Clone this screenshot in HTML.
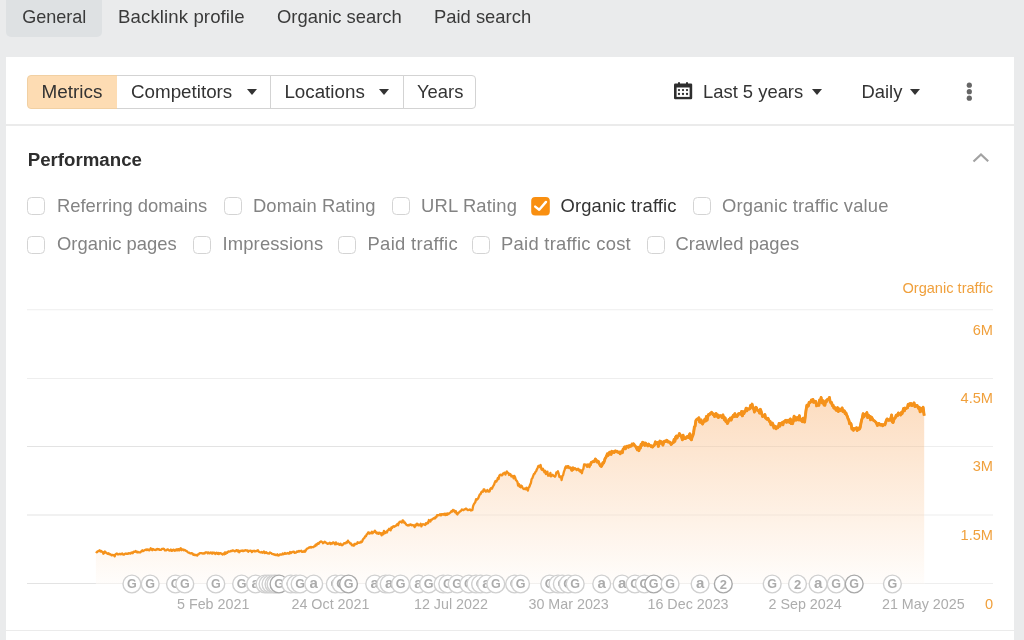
<!DOCTYPE html>
<html><head><meta charset="utf-8">
<style>
*{margin:0;padding:0;box-sizing:border-box}
html{-webkit-font-smoothing:antialiased}body{will-change:transform}html,body{width:1024px;height:640px;overflow:hidden;font-variant-ligatures:none;font-feature-settings:"liga" 0,"clig" 0;background:#eaebec;font-family:"Liberation Sans",sans-serif;color:#333}
.a{position:absolute;white-space:nowrap}
.t{font-size:18.4px;line-height:20px}
.tab{color:#3a3a3a}
#gen{left:6px;top:0;width:96px;height:37px;background:#dee1e3;border-radius:0 0 5px 5px}
#panel{left:6px;top:57px;width:1008px;height:583px;background:#fff}
.hr{height:1px;background:#ebebeb}
.btn{top:75px;height:33.6px;border:1px solid #d3d3d3;background:#fff}
.arrow{width:0;height:0;border-left:5px solid transparent;border-right:5px solid transparent;border-top:6px solid #333}
.cb{width:18px;height:18px;border:1.3px solid #d4d4d4;border-radius:4.5px;background:#fff}
.lbl{color:#838383}
.ylab{font-size:14.6px;line-height:16px;color:#f0a03c;text-align:right}
.dlab{font-size:14.3px;line-height:16px;color:#adadad}
</style></head><body>
<div class="a" id="gen"></div>
<div class="a t tab" style="left:22.2px;top:7px;font-size:18.05px">General</div>
<div class="a t tab" style="left:118.1px;top:7px;font-size:18.6px;letter-spacing:0.1px">Backlink profile</div>
<div class="a t tab" style="left:277px;top:7px">Organic search</div>
<div class="a t tab" style="left:434px;top:7px">Paid search</div>

<div class="a" id="panel"></div>
<div class="a hr" style="left:6px;top:124.3px;height:1.3px;width:1008px"></div>
<div class="a hr" style="left:6px;top:630.2px;height:1.3px;width:1008px"></div>

<div class="a btn" style="left:27px;width:91px;background:#fddcb3;border-color:#f1d0a3;border-radius:4px 0 0 4px"></div>
<div class="a btn" style="left:117px;width:155px;border-left:none"></div>
<div class="a btn" style="left:270.3px;width:133.7px"></div>
<div class="a btn" style="left:403px;width:73px;border-radius:0 4px 4px 0"></div>
<div class="a t" style="left:41.5px;top:82px;font-size:18.9px">Metrics</div>
<div class="a t" style="left:131px;top:82px;font-size:18.8px">Competitors</div>
<div class="a arrow" style="left:247px;top:89px"></div>
<div class="a t" style="left:284.4px;top:82px;font-size:18.8px">Locations</div>
<div class="a arrow" style="left:379px;top:89px"></div>
<div class="a t" style="left:417px;top:82px">Years</div>

<svg class="a" style="left:668px;top:76px" width="30" height="30" viewBox="0 0 30 30">
<rect x="6" y="7.6" width="18.2" height="15.6" rx="1.2" fill="#2e2e2e"/>
<rect x="8.6" y="11.5" width="13" height="9.4" fill="#fff"/>
<rect x="10" y="6" width="2" height="3" rx="1" fill="#2e2e2e"/><rect x="18" y="6" width="2" height="3" rx="1" fill="#2e2e2e"/>
<g fill="#2e2e2e"><circle cx="11" cy="14.1" r="1.15"/><circle cx="15" cy="14.1" r="1.15"/><circle cx="19" cy="14.1" r="1.15"/>
<circle cx="11" cy="18" r="1.15"/><circle cx="15" cy="18" r="1.15"/><circle cx="19" cy="18" r="1.15"/></g>
</svg>
<div class="a t" style="left:703px;top:82px">Last 5 years</div>
<div class="a arrow" style="left:811.5px;top:89px"></div>
<div class="a t" style="left:861.5px;top:82px">Daily</div>
<div class="a arrow" style="left:910px;top:89px"></div>
<svg class="a" style="left:964px;top:81px" width="11" height="22"><circle cx="5.3" cy="4.2" r="2.6" fill="#666"/><circle cx="5.3" cy="10.7" r="2.6" fill="#666"/><circle cx="5.3" cy="17.2" r="2.6" fill="#666"/></svg>

<div class="a" style="left:27.7px;top:150px;font-size:18.7px;line-height:20px;font-weight:bold;color:#2e2e2e">Performance</div>
<svg class="a" style="left:970px;top:150px" width="22" height="16"><polyline points="3.5,11.5 11,4.5 18.2,11.2" fill="none" stroke="#a2a2a2" stroke-width="2.2"/></svg>

<div class="a cb" style="left:27px;top:197.4px"></div>
<div class="a t lbl" style="left:57px;top:196px">Referring domains</div>
<div class="a cb" style="left:224px;top:197.4px"></div>
<div class="a t lbl" style="letter-spacing:0.07px;left:253px;top:196px">Domain Rating</div>
<div class="a cb" style="left:392px;top:197.4px"></div>
<div class="a t lbl" style="letter-spacing:0.17px;left:421px;top:196px">URL Rating</div>
<svg class="a" style="left:531px;top:197.3px" width="19" height="19"><rect x="0.2" y="0" width="18.6" height="18.6" rx="4" fill="#f98f10"/><polyline points="4.2,9.6 8.2,12.8 15,4.9" fill="none" stroke="#fff" stroke-width="2.4" stroke-linecap="round" stroke-linejoin="round"/></svg>
<div class="a t" style="letter-spacing:0.13px;left:560.5px;top:196px;color:#333">Organic traffic</div>
<div class="a cb" style="left:693px;top:197.4px"></div>
<div class="a t lbl" style="letter-spacing:0.16px;left:722px;top:196px">Organic traffic value</div>

<div class="a cb" style="left:27px;top:236px"></div>
<div class="a t lbl" style="left:57px;top:234px">Organic pages</div>
<div class="a cb" style="left:193px;top:236px"></div>
<div class="a t lbl" style="letter-spacing:0.15px;left:222.5px;top:234px">Impressions</div>
<div class="a cb" style="left:338px;top:236px"></div>
<div class="a t lbl" style="letter-spacing:0.33px;left:367.5px;top:234px">Paid traffic</div>
<div class="a cb" style="left:472px;top:236px"></div>
<div class="a t lbl" style="letter-spacing:0.27px;left:501px;top:234px">Paid traffic cost</div>
<div class="a cb" style="left:647px;top:236px"></div>
<div class="a t lbl" style="letter-spacing:0.08px;left:675.5px;top:234px">Crawled pages</div>

<div class="a ylab" style="right:31px;top:279.6px">Organic traffic</div>

<svg class="a" style="left:0;top:0" width="1024" height="640">
<defs><linearGradient id="gr" x1="0" y1="398" x2="0" y2="596" gradientUnits="userSpaceOnUse">
<stop offset="0" stop-color="#fcd9b9"/><stop offset="1" stop-color="#fff" stop-opacity="1"/></linearGradient></defs>
<g stroke="#eeeeee" stroke-width="1.1">
<line x1="27" y1="309.8" x2="993" y2="309.8"/><line x1="27" y1="378.5" x2="993" y2="378.5"/>
<line x1="27" y1="446.5" x2="993" y2="446.5"/><line x1="27" y1="515" x2="993" y2="515"/>
<line x1="27" y1="583.5" x2="993" y2="583.5"/></g>
<path d="M95.9,551.5 L96.7,552.3 L97.4,551.8 L98.2,551.0 L98.9,551.0 L99.7,550.2 L100.4,551.5 L101.2,551.0 L101.9,551.9 L102.7,552.0 L103.4,553.8 L104.2,553.0 L104.9,551.5 L105.7,552.6 L106.4,552.7 L107.2,553.6 L107.9,553.8 L108.7,553.3 L109.4,554.4 L110.2,554.1 L110.9,554.6 L111.7,555.4 L112.4,554.8 L113.2,555.1 L113.9,555.2 L114.7,556.3 L115.4,554.4 L116.2,553.8 L116.9,553.5 L117.7,554.4 L118.4,554.4 L119.2,553.9 L119.9,553.8 L120.7,554.3 L121.4,553.9 L122.2,553.4 L122.9,554.4 L123.7,554.7 L124.4,554.2 L125.2,553.7 L125.9,553.5 L126.7,553.8 L127.4,553.6 L128.2,553.8 L128.9,553.1 L129.7,553.5 L130.4,553.7 L131.2,552.7 L131.9,552.5 L132.7,553.2 L133.4,551.8 L134.2,551.6 L134.9,551.9 L135.7,551.0 L136.4,551.6 L137.2,552.5 L137.9,551.8 L138.7,552.4 L139.4,552.4 L140.2,552.4 L140.9,551.6 L141.7,551.2 L142.4,550.3 L143.2,551.1 L143.9,550.7 L144.7,550.1 L145.4,549.9 L146.2,549.4 L146.9,550.1 L147.7,549.5 L148.4,549.6 L149.2,550.4 L149.9,549.7 L150.7,548.3 L151.4,549.5 L152.2,550.2 L152.9,548.9 L153.7,549.7 L154.4,549.8 L155.2,549.6 L155.9,550.1 L156.7,549.1 L157.4,549.0 L158.2,549.5 L158.9,549.2 L159.7,549.9 L160.4,549.9 L161.2,549.8 L161.9,548.9 L162.7,548.8 L163.4,548.7 L164.2,549.1 L164.9,550.3 L165.7,550.3 L166.4,550.4 L167.2,549.4 L167.9,549.4 L168.7,550.2 L169.4,550.6 L170.2,550.3 L170.9,549.5 L171.7,550.9 L172.4,550.7 L173.2,549.7 L173.9,549.9 L174.7,550.8 L175.4,549.8 L176.2,550.3 L176.9,549.3 L177.7,550.4 L178.4,549.1 L179.2,550.4 L179.9,549.3 L180.7,548.2 L181.4,550.2 L182.2,549.4 L182.9,549.3 L183.7,550.3 L184.4,549.9 L185.2,550.3 L185.9,550.8 L186.7,551.0 L187.4,551.8 L188.2,552.5 L188.9,552.6 L189.7,553.0 L190.4,553.4 L191.2,553.5 L191.9,553.1 L192.7,553.7 L193.4,554.8 L194.2,554.5 L194.9,555.2 L195.7,554.8 L196.4,555.3 L197.2,555.5 L197.9,554.5 L198.7,554.4 L199.4,553.4 L200.2,553.2 L200.9,553.1 L201.7,553.1 L202.4,553.4 L203.2,553.7 L203.9,553.1 L204.7,553.5 L205.4,552.4 L206.2,552.3 L206.9,552.3 L207.7,553.3 L208.4,552.4 L209.2,553.1 L209.9,553.4 L210.7,552.4 L211.4,552.7 L212.2,553.7 L212.9,552.5 L213.7,553.1 L214.4,552.7 L215.2,554.0 L215.9,553.4 L216.7,552.7 L217.4,553.7 L218.2,552.9 L218.9,554.1 L219.7,553.1 L220.4,553.1 L221.2,553.6 L221.9,553.9 L222.7,554.6 L223.4,553.6 L224.2,554.2 L224.9,552.4 L225.7,553.7 L226.4,552.4 L227.2,552.9 L227.9,551.8 L228.7,551.4 L229.4,551.7 L230.2,551.5 L230.9,550.8 L231.7,551.2 L232.4,550.5 L233.2,550.4 L233.9,550.8 L234.7,551.4 L235.4,551.0 L236.2,550.4 L236.9,550.1 L237.7,551.3 L238.4,550.4 L239.2,552.3 L239.9,551.3 L240.7,550.8 L241.4,550.6 L242.2,551.0 L242.9,550.5 L243.7,551.1 L244.4,550.7 L245.2,550.2 L245.9,550.3 L246.7,550.6 L247.4,550.4 L248.2,551.7 L248.9,550.8 L249.7,550.9 L250.4,550.7 L251.2,550.9 L251.9,552.1 L252.7,551.0 L253.4,551.1 L254.2,550.7 L254.9,551.5 L255.7,551.1 L256.4,550.9 L257.1,551.1 L257.9,550.2 L258.6,551.5 L259.4,552.0 L260.1,552.3 L260.9,552.3 L261.6,551.9 L262.4,552.8 L263.1,552.5 L263.9,551.5 L264.6,553.0 L265.4,552.9 L266.1,552.1 L266.9,552.8 L267.6,553.4 L268.4,553.3 L269.1,553.6 L269.9,552.5 L270.6,553.0 L271.4,553.2 L272.1,554.0 L272.9,554.2 L273.6,554.2 L274.4,554.8 L275.1,554.5 L275.9,555.2 L276.6,555.2 L277.4,554.3 L278.1,555.5 L278.9,555.4 L279.6,554.7 L280.4,554.4 L281.1,554.7 L281.9,554.6 L282.6,553.5 L283.4,554.3 L284.1,554.0 L284.9,553.0 L285.6,553.8 L286.4,553.7 L287.1,553.3 L287.9,553.0 L288.6,553.6 L289.4,553.6 L290.1,552.0 L290.9,553.1 L291.6,552.4 L292.4,552.0 L293.1,551.9 L293.9,551.7 L294.6,552.9 L295.4,552.6 L296.1,552.6 L296.9,551.5 L297.6,551.8 L298.4,551.0 L299.1,551.6 L299.9,551.0 L300.6,551.2 L301.4,550.6 L302.1,551.8 L302.9,551.9 L303.6,551.7 L304.4,550.8 L305.1,551.7 L305.9,550.3 L306.6,549.1 L307.4,548.6 L308.1,548.2 L308.9,547.5 L309.6,547.5 L310.4,547.0 L311.1,547.6 L311.9,547.0 L312.6,547.2 L313.4,547.1 L314.1,546.4 L314.9,546.2 L315.6,544.6 L316.4,545.4 L317.1,544.1 L317.9,543.2 L318.6,543.7 L319.4,542.6 L320.1,541.9 L320.9,541.4 L321.6,541.7 L322.4,542.3 L323.1,543.2 L323.9,542.6 L324.6,541.7 L325.4,542.4 L326.1,542.7 L326.9,543.4 L327.6,543.9 L328.4,543.5 L329.1,543.4 L329.9,542.7 L330.6,544.1 L331.4,543.2 L332.1,543.6 L332.9,542.5 L333.6,542.5 L334.4,543.6 L335.1,544.4 L335.9,542.4 L336.6,544.0 L337.4,543.9 L338.1,543.5 L338.9,544.4 L339.6,544.8 L340.4,543.6 L341.1,544.4 L341.9,545.3 L342.6,544.9 L343.4,544.2 L344.1,543.1 L344.9,543.1 L345.6,543.4 L346.4,542.2 L347.1,542.6 L347.9,540.6 L348.6,542.0 L349.4,542.3 L350.1,543.5 L350.9,543.3 L351.6,544.9 L352.4,545.4 L353.1,544.8 L353.9,545.7 L354.6,543.9 L355.4,544.3 L356.1,543.8 L356.9,543.9 L357.6,542.2 L358.4,542.6 L359.1,542.8 L359.9,542.7 L360.6,541.8 L361.4,542.3 L362.1,541.6 L362.9,539.5 L363.6,538.6 L364.4,537.9 L365.1,536.4 L365.9,536.2 L366.6,534.6 L367.4,534.1 L368.1,532.5 L368.9,532.5 L369.6,533.5 L370.4,533.0 L371.1,533.3 L371.9,531.8 L372.6,533.3 L373.4,532.5 L374.1,531.9 L374.9,530.7 L375.6,531.6 L376.4,533.1 L377.1,533.5 L377.9,532.6 L378.6,533.8 L379.4,532.7 L380.1,533.6 L380.9,533.3 L381.6,535.3 L382.4,533.2 L383.1,534.2 L383.9,530.9 L384.6,533.4 L385.4,532.8 L386.1,531.8 L386.9,532.5 L387.6,530.5 L388.4,530.0 L389.1,528.8 L389.9,529.9 L390.6,530.4 L391.4,527.3 L392.1,528.1 L392.9,526.5 L393.6,526.2 L394.4,526.8 L395.1,526.1 L395.9,525.8 L396.6,524.9 L397.4,523.9 L398.1,525.2 L398.9,522.9 L399.6,521.9 L400.4,521.7 L401.1,521.9 L401.9,522.6 L402.6,520.4 L403.4,520.8 L404.1,522.7 L404.9,522.4 L405.6,523.8 L406.4,524.8 L407.1,525.1 L407.9,525.5 L408.6,525.0 L409.4,525.4 L410.1,524.5 L410.9,524.4 L411.6,525.3 L412.4,525.0 L413.1,525.2 L413.9,525.7 L414.6,527.1 L415.4,524.8 L416.1,525.5 L416.9,523.7 L417.6,523.8 L418.4,525.4 L419.1,525.3 L419.9,525.0 L420.6,523.7 L421.4,526.4 L422.1,524.8 L422.9,524.2 L423.6,524.3 L424.4,524.7 L425.1,525.0 L425.9,523.2 L426.6,524.0 L427.4,522.7 L428.1,523.1 L428.9,520.0 L429.6,521.2 L430.4,521.5 L431.1,519.7 L431.9,519.7 L432.6,518.9 L433.4,518.4 L434.1,518.0 L434.9,518.5 L435.6,516.9 L436.4,517.2 L437.1,515.1 L437.9,515.4 L438.6,515.1 L439.4,515.2 L440.1,514.1 L440.9,515.4 L441.6,514.1 L442.4,514.6 L443.1,514.0 L443.9,514.7 L444.6,513.7 L445.4,515.1 L446.1,513.6 L446.9,514.9 L447.6,513.4 L448.4,514.0 L449.1,513.5 L449.9,512.9 L450.6,512.4 L451.4,511.1 L452.1,511.6 L452.9,509.9 L453.6,511.0 L454.4,510.5 L455.1,512.2 L455.9,511.1 L456.6,513.7 L457.4,514.5 L458.1,513.0 L458.9,512.6 L459.6,511.7 L460.4,511.2 L461.1,510.8 L461.9,509.4 L462.6,510.0 L463.4,510.2 L464.1,509.4 L464.9,509.4 L465.6,508.7 L466.4,508.6 L467.1,509.6 L467.9,510.2 L468.6,510.0 L469.4,509.6 L470.1,509.5 L470.9,510.5 L471.6,510.3 L472.4,510.0 L473.1,506.1 L473.9,504.1 L474.6,503.2 L475.4,501.9 L476.1,499.1 L476.9,499.7 L477.6,499.0 L478.4,497.8 L479.1,496.0 L479.9,494.3 L480.6,494.1 L481.4,492.0 L482.1,491.4 L482.9,491.8 L483.6,489.5 L484.4,489.4 L485.1,491.0 L485.9,491.7 L486.6,491.1 L487.4,490.0 L488.1,491.5 L488.9,491.7 L489.6,491.3 L490.4,488.7 L491.1,488.0 L491.9,488.7 L492.6,487.2 L493.4,485.8 L494.1,484.6 L494.9,482.2 L495.6,480.9 L496.4,481.5 L497.1,480.2 L497.9,478.0 L498.6,479.0 L499.4,475.5 L500.1,474.8 L500.9,474.6 L501.6,475.4 L502.4,475.1 L503.1,473.4 L503.9,473.4 L504.6,472.6 L505.4,474.6 L506.1,472.9 L506.9,471.4 L507.6,472.7 L508.4,473.1 L509.1,475.0 L509.9,474.0 L510.6,474.5 L511.4,476.5 L512.1,476.3 L512.9,475.9 L513.6,478.3 L514.4,475.9 L515.1,477.3 L515.9,480.1 L516.6,480.7 L517.4,481.9 L518.1,485.5 L518.9,484.0 L519.6,486.6 L520.4,487.2 L521.1,485.5 L521.9,486.2 L522.6,487.9 L523.4,488.9 L524.1,489.0 L524.9,488.5 L525.6,489.2 L526.4,487.8 L527.1,489.6 L527.9,490.6 L528.6,487.6 L529.4,486.8 L530.1,484.7 L530.9,483.0 L531.6,479.1 L532.4,478.1 L533.1,476.2 L533.9,474.1 L534.6,473.7 L535.4,472.0 L536.1,471.3 L536.9,469.3 L537.6,467.9 L538.4,465.8 L539.1,465.9 L539.9,467.0 L540.6,465.0 L541.4,469.3 L542.1,470.0 L542.9,468.8 L543.6,470.4 L544.4,472.4 L545.1,470.8 L545.9,474.0 L546.6,472.3 L547.4,471.6 L548.1,475.7 L548.9,475.3 L549.6,475.6 L550.4,472.9 L551.1,476.4 L551.9,475.4 L552.6,474.8 L553.4,475.8 L554.1,476.0 L554.9,476.8 L555.6,475.6 L556.4,472.3 L557.1,472.5 L557.9,471.3 L558.6,473.4 L559.4,477.1 L560.1,477.2 L560.9,476.4 L561.6,480.0 L562.4,476.2 L563.1,475.2 L563.9,471.8 L564.6,469.9 L565.4,467.2 L566.1,466.3 L566.9,467.7 L567.6,466.1 L568.4,466.1 L569.1,468.1 L569.9,468.0 L570.6,467.4 L571.4,470.5 L572.1,470.6 L572.9,467.4 L573.6,469.7 L574.4,468.3 L575.1,468.1 L575.9,469.2 L576.6,470.1 L577.4,469.1 L578.1,468.7 L578.9,470.6 L579.6,469.6 L580.4,471.9 L581.1,470.5 L581.9,473.2 L582.6,470.1 L583.4,468.8 L584.1,464.4 L584.9,464.3 L585.6,465.2 L586.4,464.8 L587.1,466.9 L587.9,464.4 L588.6,464.6 L589.4,467.1 L590.1,465.6 L590.9,463.2 L591.6,462.1 L592.4,461.8 L593.1,461.5 L593.9,461.7 L594.6,460.8 L595.4,459.0 L596.1,460.1 L596.9,461.9 L597.6,461.1 L598.4,461.5 L599.1,463.5 L599.9,464.7 L600.6,466.0 L601.4,466.4 L602.1,465.1 L602.9,462.7 L603.6,463.1 L604.4,460.9 L605.1,458.5 L605.9,457.4 L606.6,455.9 L607.4,453.8 L608.1,455.4 L608.9,454.1 L609.6,452.2 L610.4,452.2 L611.1,454.4 L611.9,451.3 L612.6,452.3 L613.4,451.8 L614.1,452.5 L614.9,451.2 L615.6,450.9 L616.4,451.8 L617.1,451.3 L617.9,451.9 L618.6,452.6 L619.4,452.1 L620.1,453.8 L620.9,453.0 L621.6,451.4 L622.4,452.6 L623.1,449.1 L623.9,448.5 L624.6,446.9 L625.4,448.8 L626.1,447.3 L626.9,446.1 L627.6,446.1 L628.4,447.3 L629.1,445.8 L629.9,445.7 L630.6,446.3 L631.4,445.9 L632.1,444.0 L632.9,444.7 L633.6,443.8 L634.4,445.3 L635.1,445.9 L635.9,446.9 L636.6,448.2 L637.4,449.7 L638.1,447.3 L638.9,450.7 L639.6,447.0 L640.4,448.0 L641.1,444.2 L641.9,445.3 L642.6,442.3 L643.4,442.7 L644.1,443.3 L644.9,445.4 L645.6,443.1 L646.4,444.8 L647.1,445.2 L647.9,445.9 L648.6,444.1 L649.4,445.4 L650.1,445.5 L650.9,446.4 L651.6,445.8 L652.4,447.1 L653.1,446.4 L653.9,445.5 L654.6,444.7 L655.4,441.8 L656.1,443.2 L656.9,443.8 L657.6,442.6 L658.4,446.4 L659.1,443.3 L659.9,441.1 L660.6,443.2 L661.4,441.8 L662.1,442.3 L662.9,445.1 L663.6,442.7 L664.4,441.2 L665.1,441.1 L665.9,441.5 L666.6,440.3 L667.4,440.8 L668.1,442.1 L668.9,442.1 L669.6,442.0 L670.4,443.0 L671.1,444.5 L671.9,443.8 L672.6,442.6 L673.4,442.6 L674.1,439.4 L674.9,441.3 L675.6,437.2 L676.4,435.9 L677.1,438.0 L677.9,436.0 L678.6,435.8 L679.4,433.6 L680.1,434.8 L680.9,435.9 L681.6,437.1 L682.4,439.8 L683.1,435.3 L683.9,438.7 L684.6,438.1 L685.4,438.6 L686.1,437.6 L686.9,436.6 L687.6,436.5 L688.4,437.5 L689.1,435.3 L689.9,433.7 L690.6,438.9 L691.4,439.8 L692.1,437.1 L692.9,435.4 L693.6,432.8 L694.4,426.8 L695.1,426.1 L695.9,420.6 L696.6,419.6 L697.4,418.9 L698.1,419.1 L698.9,417.7 L699.6,422.0 L700.4,422.3 L701.1,419.9 L701.9,422.7 L702.6,424.0 L703.4,422.2 L704.1,420.8 L704.9,419.1 L705.6,421.1 L706.4,416.5 L707.1,420.2 L707.9,415.9 L708.6,414.5 L709.4,414.9 L710.1,413.6 L710.9,413.2 L711.6,412.3 L712.4,413.4 L713.1,414.7 L713.9,414.0 L714.6,416.5 L715.4,415.2 L716.1,413.5 L716.9,416.2 L717.6,414.9 L718.4,417.6 L719.1,416.2 L719.9,415.7 L720.6,415.6 L721.4,416.6 L722.1,417.5 L722.9,414.9 L723.6,417.5 L724.4,419.9 L725.1,417.8 L725.9,421.6 L726.6,421.6 L727.4,423.5 L728.1,422.2 L728.9,419.4 L729.6,420.2 L730.4,418.0 L731.1,420.1 L731.9,418.1 L732.6,416.8 L733.4,415.2 L734.1,416.6 L734.9,413.7 L735.6,416.3 L736.4,415.4 L737.1,416.5 L737.9,414.8 L738.6,413.6 L739.4,413.5 L740.1,414.1 L740.9,414.2 L741.6,411.4 L742.4,415.9 L743.1,411.6 L743.9,413.6 L744.6,412.0 L745.4,411.0 L746.1,408.2 L746.9,410.8 L747.6,408.8 L748.4,408.9 L749.1,409.1 L749.9,408.7 L750.6,405.4 L751.4,406.5 L752.1,404.1 L752.9,408.3 L753.6,408.0 L754.4,412.0 L755.1,408.9 L755.9,407.2 L756.6,408.2 L757.4,410.3 L758.1,410.9 L758.9,410.5 L759.6,413.1 L760.4,409.3 L761.1,411.2 L761.9,414.4 L762.6,416.6 L763.4,415.7 L764.1,416.0 L764.9,414.5 L765.6,418.1 L766.4,418.7 L767.1,419.2 L767.9,418.2 L768.6,419.7 L769.4,421.4 L770.1,421.3 L770.9,424.7 L771.6,424.8 L772.4,423.1 L773.1,424.7 L773.9,428.0 L774.6,426.1 L775.4,426.5 L776.1,428.8 L776.9,426.9 L777.6,427.8 L778.4,426.7 L779.1,423.4 L779.9,426.1 L780.6,423.5 L781.4,423.5 L782.1,422.6 L782.9,424.8 L783.6,421.8 L784.4,421.9 L785.1,420.7 L785.9,420.2 L786.6,422.3 L787.4,421.3 L788.1,420.2 L788.9,420.4 L789.6,422.6 L790.4,418.9 L791.1,423.5 L791.9,420.8 L792.6,423.7 L793.4,420.6 L794.1,416.1 L794.9,420.2 L795.6,417.4 L796.4,420.0 L797.1,418.7 L797.9,417.5 L798.6,419.9 L799.4,415.7 L800.1,420.0 L800.9,419.0 L801.6,420.6 L802.4,421.7 L803.1,418.2 L803.9,421.9 L804.6,422.0 L805.4,415.4 L806.1,409.7 L806.9,405.2 L807.6,406.5 L808.4,405.8 L809.1,402.4 L809.9,402.6 L810.6,402.1 L811.4,400.0 L812.1,401.3 L812.9,399.4 L813.6,402.4 L814.4,401.1 L815.1,402.1 L815.9,401.5 L816.6,405.9 L817.4,404.5 L818.1,404.2 L818.9,405.3 L819.6,399.9 L820.4,401.2 L821.1,397.4 L821.9,402.9 L822.6,400.5 L823.4,403.2 L824.1,405.1 L824.9,405.2 L825.6,400.9 L826.4,401.7 L827.1,399.8 L827.9,399.3 L828.6,399.1 L829.4,397.4 L830.1,401.3 L830.9,403.0 L831.6,402.5 L832.4,405.7 L833.1,405.2 L833.9,408.1 L834.6,407.3 L835.4,408.5 L836.1,410.2 L836.9,410.5 L837.6,407.6 L838.4,411.5 L839.1,408.8 L839.9,410.6 L840.6,410.3 L841.4,409.7 L842.1,407.9 L842.9,411.6 L843.6,411.4 L844.4,410.8 L845.1,413.6 L845.9,412.8 L846.6,415.0 L847.4,416.5 L848.1,418.8 L848.9,420.2 L849.6,423.7 L850.4,423.0 L851.1,424.1 L851.9,429.1 L852.6,428.4 L853.4,430.3 L854.1,428.6 L854.9,428.9 L855.6,428.7 L856.4,427.7 L857.1,430.5 L857.9,429.5 L858.6,428.1 L859.4,429.1 L860.1,427.8 L860.9,423.5 L861.6,420.1 L862.4,417.6 L863.1,413.7 L863.9,416.9 L864.6,415.5 L865.4,414.3 L866.1,414.2 L866.9,412.6 L867.6,417.6 L868.4,415.1 L869.1,417.2 L869.9,416.3 L870.6,419.9 L871.4,417.1 L872.1,418.2 L872.9,419.5 L873.6,420.5 L874.4,420.8 L875.1,421.5 L875.9,422.2 L876.6,423.4 L877.4,425.5 L878.1,424.1 L878.9,423.4 L879.6,424.0 L880.4,425.1 L881.1,424.7 L881.9,424.5 L882.6,425.8 L883.4,424.8 L884.1,424.4 L884.9,424.8 L885.6,422.6 L886.4,420.2 L887.1,418.9 L887.9,419.8 L888.6,420.3 L889.4,419.9 L890.1,420.3 L890.9,418.1 L891.6,415.0 L892.4,422.0 L893.1,422.5 L893.9,419.7 L894.6,418.3 L895.4,417.6 L896.1,415.3 L896.9,414.9 L897.6,415.7 L898.4,413.0 L899.1,413.7 L899.9,413.9 L900.6,415.0 L901.4,412.4 L902.1,413.7 L902.9,410.9 L903.6,408.5 L904.4,410.8 L905.1,408.1 L905.9,408.8 L906.6,408.1 L907.4,407.9 L908.1,404.5 L908.9,405.5 L909.6,403.7 L910.4,405.1 L911.1,403.5 L911.9,405.6 L912.6,404.2 L913.4,404.0 L914.1,402.9 L914.9,406.6 L915.6,406.1 L916.4,405.6 L917.1,405.4 L917.9,407.3 L918.6,408.4 L919.4,407.4 L920.1,411.9 L920.9,408.4 L921.6,410.5 L922.4,411.2 L923.1,407.3 L924.2,415.6 L924.2,584 L95.9,584 Z" fill="url(#gr)" fill-opacity="0.9"/>
<g stroke="#000" stroke-opacity="0.045" stroke-width="1.1"><line x1="27" y1="446.5" x2="924" y2="446.5"/><line x1="27" y1="515" x2="924" y2="515"/><line x1="27" y1="583.5" x2="924" y2="583.5"/></g>
<path d="M95.9,551.5 L96.7,552.3 L97.4,551.8 L98.2,551.0 L98.9,551.0 L99.7,550.2 L100.4,551.5 L101.2,551.0 L101.9,551.9 L102.7,552.0 L103.4,553.8 L104.2,553.0 L104.9,551.5 L105.7,552.6 L106.4,552.7 L107.2,553.6 L107.9,553.8 L108.7,553.3 L109.4,554.4 L110.2,554.1 L110.9,554.6 L111.7,555.4 L112.4,554.8 L113.2,555.1 L113.9,555.2 L114.7,556.3 L115.4,554.4 L116.2,553.8 L116.9,553.5 L117.7,554.4 L118.4,554.4 L119.2,553.9 L119.9,553.8 L120.7,554.3 L121.4,553.9 L122.2,553.4 L122.9,554.4 L123.7,554.7 L124.4,554.2 L125.2,553.7 L125.9,553.5 L126.7,553.8 L127.4,553.6 L128.2,553.8 L128.9,553.1 L129.7,553.5 L130.4,553.7 L131.2,552.7 L131.9,552.5 L132.7,553.2 L133.4,551.8 L134.2,551.6 L134.9,551.9 L135.7,551.0 L136.4,551.6 L137.2,552.5 L137.9,551.8 L138.7,552.4 L139.4,552.4 L140.2,552.4 L140.9,551.6 L141.7,551.2 L142.4,550.3 L143.2,551.1 L143.9,550.7 L144.7,550.1 L145.4,549.9 L146.2,549.4 L146.9,550.1 L147.7,549.5 L148.4,549.6 L149.2,550.4 L149.9,549.7 L150.7,548.3 L151.4,549.5 L152.2,550.2 L152.9,548.9 L153.7,549.7 L154.4,549.8 L155.2,549.6 L155.9,550.1 L156.7,549.1 L157.4,549.0 L158.2,549.5 L158.9,549.2 L159.7,549.9 L160.4,549.9 L161.2,549.8 L161.9,548.9 L162.7,548.8 L163.4,548.7 L164.2,549.1 L164.9,550.3 L165.7,550.3 L166.4,550.4 L167.2,549.4 L167.9,549.4 L168.7,550.2 L169.4,550.6 L170.2,550.3 L170.9,549.5 L171.7,550.9 L172.4,550.7 L173.2,549.7 L173.9,549.9 L174.7,550.8 L175.4,549.8 L176.2,550.3 L176.9,549.3 L177.7,550.4 L178.4,549.1 L179.2,550.4 L179.9,549.3 L180.7,548.2 L181.4,550.2 L182.2,549.4 L182.9,549.3 L183.7,550.3 L184.4,549.9 L185.2,550.3 L185.9,550.8 L186.7,551.0 L187.4,551.8 L188.2,552.5 L188.9,552.6 L189.7,553.0 L190.4,553.4 L191.2,553.5 L191.9,553.1 L192.7,553.7 L193.4,554.8 L194.2,554.5 L194.9,555.2 L195.7,554.8 L196.4,555.3 L197.2,555.5 L197.9,554.5 L198.7,554.4 L199.4,553.4 L200.2,553.2 L200.9,553.1 L201.7,553.1 L202.4,553.4 L203.2,553.7 L203.9,553.1 L204.7,553.5 L205.4,552.4 L206.2,552.3 L206.9,552.3 L207.7,553.3 L208.4,552.4 L209.2,553.1 L209.9,553.4 L210.7,552.4 L211.4,552.7 L212.2,553.7 L212.9,552.5 L213.7,553.1 L214.4,552.7 L215.2,554.0 L215.9,553.4 L216.7,552.7 L217.4,553.7 L218.2,552.9 L218.9,554.1 L219.7,553.1 L220.4,553.1 L221.2,553.6 L221.9,553.9 L222.7,554.6 L223.4,553.6 L224.2,554.2 L224.9,552.4 L225.7,553.7 L226.4,552.4 L227.2,552.9 L227.9,551.8 L228.7,551.4 L229.4,551.7 L230.2,551.5 L230.9,550.8 L231.7,551.2 L232.4,550.5 L233.2,550.4 L233.9,550.8 L234.7,551.4 L235.4,551.0 L236.2,550.4 L236.9,550.1 L237.7,551.3 L238.4,550.4 L239.2,552.3 L239.9,551.3 L240.7,550.8 L241.4,550.6 L242.2,551.0 L242.9,550.5 L243.7,551.1 L244.4,550.7 L245.2,550.2 L245.9,550.3 L246.7,550.6 L247.4,550.4 L248.2,551.7 L248.9,550.8 L249.7,550.9 L250.4,550.7 L251.2,550.9 L251.9,552.1 L252.7,551.0 L253.4,551.1 L254.2,550.7 L254.9,551.5 L255.7,551.1 L256.4,550.9 L257.1,551.1 L257.9,550.2 L258.6,551.5 L259.4,552.0 L260.1,552.3 L260.9,552.3 L261.6,551.9 L262.4,552.8 L263.1,552.5 L263.9,551.5 L264.6,553.0 L265.4,552.9 L266.1,552.1 L266.9,552.8 L267.6,553.4 L268.4,553.3 L269.1,553.6 L269.9,552.5 L270.6,553.0 L271.4,553.2 L272.1,554.0 L272.9,554.2 L273.6,554.2 L274.4,554.8 L275.1,554.5 L275.9,555.2 L276.6,555.2 L277.4,554.3 L278.1,555.5 L278.9,555.4 L279.6,554.7 L280.4,554.4 L281.1,554.7 L281.9,554.6 L282.6,553.5 L283.4,554.3 L284.1,554.0 L284.9,553.0 L285.6,553.8 L286.4,553.7 L287.1,553.3 L287.9,553.0 L288.6,553.6 L289.4,553.6 L290.1,552.0 L290.9,553.1 L291.6,552.4 L292.4,552.0 L293.1,551.9 L293.9,551.7 L294.6,552.9 L295.4,552.6 L296.1,552.6 L296.9,551.5 L297.6,551.8 L298.4,551.0 L299.1,551.6 L299.9,551.0 L300.6,551.2 L301.4,550.6 L302.1,551.8 L302.9,551.9 L303.6,551.7 L304.4,550.8 L305.1,551.7 L305.9,550.3 L306.6,549.1 L307.4,548.6 L308.1,548.2 L308.9,547.5 L309.6,547.5 L310.4,547.0 L311.1,547.6 L311.9,547.0 L312.6,547.2 L313.4,547.1 L314.1,546.4 L314.9,546.2 L315.6,544.6 L316.4,545.4 L317.1,544.1 L317.9,543.2 L318.6,543.7 L319.4,542.6 L320.1,541.9 L320.9,541.4 L321.6,541.7 L322.4,542.3 L323.1,543.2 L323.9,542.6 L324.6,541.7 L325.4,542.4 L326.1,542.7 L326.9,543.4 L327.6,543.9 L328.4,543.5 L329.1,543.4 L329.9,542.7 L330.6,544.1 L331.4,543.2 L332.1,543.6 L332.9,542.5 L333.6,542.5 L334.4,543.6 L335.1,544.4 L335.9,542.4 L336.6,544.0 L337.4,543.9 L338.1,543.5 L338.9,544.4 L339.6,544.8 L340.4,543.6 L341.1,544.4 L341.9,545.3 L342.6,544.9 L343.4,544.2 L344.1,543.1 L344.9,543.1 L345.6,543.4 L346.4,542.2 L347.1,542.6 L347.9,540.6 L348.6,542.0 L349.4,542.3 L350.1,543.5 L350.9,543.3 L351.6,544.9 L352.4,545.4 L353.1,544.8 L353.9,545.7 L354.6,543.9 L355.4,544.3 L356.1,543.8 L356.9,543.9 L357.6,542.2 L358.4,542.6 L359.1,542.8 L359.9,542.7 L360.6,541.8 L361.4,542.3 L362.1,541.6 L362.9,539.5 L363.6,538.6 L364.4,537.9 L365.1,536.4 L365.9,536.2 L366.6,534.6 L367.4,534.1 L368.1,532.5 L368.9,532.5 L369.6,533.5 L370.4,533.0 L371.1,533.3 L371.9,531.8 L372.6,533.3 L373.4,532.5 L374.1,531.9 L374.9,530.7 L375.6,531.6 L376.4,533.1 L377.1,533.5 L377.9,532.6 L378.6,533.8 L379.4,532.7 L380.1,533.6 L380.9,533.3 L381.6,535.3 L382.4,533.2 L383.1,534.2 L383.9,530.9 L384.6,533.4 L385.4,532.8 L386.1,531.8 L386.9,532.5 L387.6,530.5 L388.4,530.0 L389.1,528.8 L389.9,529.9 L390.6,530.4 L391.4,527.3 L392.1,528.1 L392.9,526.5 L393.6,526.2 L394.4,526.8 L395.1,526.1 L395.9,525.8 L396.6,524.9 L397.4,523.9 L398.1,525.2 L398.9,522.9 L399.6,521.9 L400.4,521.7 L401.1,521.9 L401.9,522.6 L402.6,520.4 L403.4,520.8 L404.1,522.7 L404.9,522.4 L405.6,523.8 L406.4,524.8 L407.1,525.1 L407.9,525.5 L408.6,525.0 L409.4,525.4 L410.1,524.5 L410.9,524.4 L411.6,525.3 L412.4,525.0 L413.1,525.2 L413.9,525.7 L414.6,527.1 L415.4,524.8 L416.1,525.5 L416.9,523.7 L417.6,523.8 L418.4,525.4 L419.1,525.3 L419.9,525.0 L420.6,523.7 L421.4,526.4 L422.1,524.8 L422.9,524.2 L423.6,524.3 L424.4,524.7 L425.1,525.0 L425.9,523.2 L426.6,524.0 L427.4,522.7 L428.1,523.1 L428.9,520.0 L429.6,521.2 L430.4,521.5 L431.1,519.7 L431.9,519.7 L432.6,518.9 L433.4,518.4 L434.1,518.0 L434.9,518.5 L435.6,516.9 L436.4,517.2 L437.1,515.1 L437.9,515.4 L438.6,515.1 L439.4,515.2 L440.1,514.1 L440.9,515.4 L441.6,514.1 L442.4,514.6 L443.1,514.0 L443.9,514.7 L444.6,513.7 L445.4,515.1 L446.1,513.6 L446.9,514.9 L447.6,513.4 L448.4,514.0 L449.1,513.5 L449.9,512.9 L450.6,512.4 L451.4,511.1 L452.1,511.6 L452.9,509.9 L453.6,511.0 L454.4,510.5 L455.1,512.2 L455.9,511.1 L456.6,513.7 L457.4,514.5 L458.1,513.0 L458.9,512.6 L459.6,511.7 L460.4,511.2 L461.1,510.8 L461.9,509.4 L462.6,510.0 L463.4,510.2 L464.1,509.4 L464.9,509.4 L465.6,508.7 L466.4,508.6 L467.1,509.6 L467.9,510.2 L468.6,510.0 L469.4,509.6 L470.1,509.5 L470.9,510.5 L471.6,510.3 L472.4,510.0 L473.1,506.1 L473.9,504.1 L474.6,503.2 L475.4,501.9 L476.1,499.1 L476.9,499.7 L477.6,499.0 L478.4,497.8 L479.1,496.0 L479.9,494.3 L480.6,494.1 L481.4,492.0 L482.1,491.4 L482.9,491.8 L483.6,489.5 L484.4,489.4 L485.1,491.0 L485.9,491.7 L486.6,491.1 L487.4,490.0 L488.1,491.5 L488.9,491.7 L489.6,491.3 L490.4,488.7 L491.1,488.0 L491.9,488.7 L492.6,487.2 L493.4,485.8 L494.1,484.6 L494.9,482.2 L495.6,480.9 L496.4,481.5 L497.1,480.2 L497.9,478.0 L498.6,479.0 L499.4,475.5 L500.1,474.8 L500.9,474.6 L501.6,475.4 L502.4,475.1 L503.1,473.4 L503.9,473.4 L504.6,472.6 L505.4,474.6 L506.1,472.9 L506.9,471.4 L507.6,472.7 L508.4,473.1 L509.1,475.0 L509.9,474.0 L510.6,474.5 L511.4,476.5 L512.1,476.3 L512.9,475.9 L513.6,478.3 L514.4,475.9 L515.1,477.3 L515.9,480.1 L516.6,480.7 L517.4,481.9 L518.1,485.5 L518.9,484.0 L519.6,486.6 L520.4,487.2 L521.1,485.5 L521.9,486.2 L522.6,487.9 L523.4,488.9 L524.1,489.0 L524.9,488.5 L525.6,489.2 L526.4,487.8 L527.1,489.6 L527.9,490.6 L528.6,487.6 L529.4,486.8 L530.1,484.7 L530.9,483.0 L531.6,479.1 L532.4,478.1 L533.1,476.2 L533.9,474.1 L534.6,473.7 L535.4,472.0 L536.1,471.3 L536.9,469.3 L537.6,467.9 L538.4,465.8 L539.1,465.9 L539.9,467.0 L540.6,465.0 L541.4,469.3 L542.1,470.0 L542.9,468.8 L543.6,470.4 L544.4,472.4 L545.1,470.8 L545.9,474.0 L546.6,472.3 L547.4,471.6 L548.1,475.7 L548.9,475.3 L549.6,475.6 L550.4,472.9 L551.1,476.4 L551.9,475.4 L552.6,474.8 L553.4,475.8 L554.1,476.0 L554.9,476.8 L555.6,475.6 L556.4,472.3 L557.1,472.5 L557.9,471.3 L558.6,473.4 L559.4,477.1 L560.1,477.2 L560.9,476.4 L561.6,480.0 L562.4,476.2 L563.1,475.2 L563.9,471.8 L564.6,469.9 L565.4,467.2 L566.1,466.3 L566.9,467.7 L567.6,466.1 L568.4,466.1 L569.1,468.1 L569.9,468.0 L570.6,467.4 L571.4,470.5 L572.1,470.6 L572.9,467.4 L573.6,469.7 L574.4,468.3 L575.1,468.1 L575.9,469.2 L576.6,470.1 L577.4,469.1 L578.1,468.7 L578.9,470.6 L579.6,469.6 L580.4,471.9 L581.1,470.5 L581.9,473.2 L582.6,470.1 L583.4,468.8 L584.1,464.4 L584.9,464.3 L585.6,465.2 L586.4,464.8 L587.1,466.9 L587.9,464.4 L588.6,464.6 L589.4,467.1 L590.1,465.6 L590.9,463.2 L591.6,462.1 L592.4,461.8 L593.1,461.5 L593.9,461.7 L594.6,460.8 L595.4,459.0 L596.1,460.1 L596.9,461.9 L597.6,461.1 L598.4,461.5 L599.1,463.5 L599.9,464.7 L600.6,466.0 L601.4,466.4 L602.1,465.1 L602.9,462.7 L603.6,463.1 L604.4,460.9 L605.1,458.5 L605.9,457.4 L606.6,455.9 L607.4,453.8 L608.1,455.4 L608.9,454.1 L609.6,452.2 L610.4,452.2 L611.1,454.4 L611.9,451.3 L612.6,452.3 L613.4,451.8 L614.1,452.5 L614.9,451.2 L615.6,450.9 L616.4,451.8 L617.1,451.3 L617.9,451.9 L618.6,452.6 L619.4,452.1 L620.1,453.8 L620.9,453.0 L621.6,451.4 L622.4,452.6 L623.1,449.1 L623.9,448.5 L624.6,446.9 L625.4,448.8 L626.1,447.3 L626.9,446.1 L627.6,446.1 L628.4,447.3 L629.1,445.8 L629.9,445.7 L630.6,446.3 L631.4,445.9 L632.1,444.0 L632.9,444.7 L633.6,443.8 L634.4,445.3 L635.1,445.9 L635.9,446.9 L636.6,448.2 L637.4,449.7 L638.1,447.3 L638.9,450.7 L639.6,447.0 L640.4,448.0 L641.1,444.2 L641.9,445.3 L642.6,442.3 L643.4,442.7 L644.1,443.3 L644.9,445.4 L645.6,443.1 L646.4,444.8 L647.1,445.2 L647.9,445.9 L648.6,444.1 L649.4,445.4 L650.1,445.5 L650.9,446.4 L651.6,445.8 L652.4,447.1 L653.1,446.4 L653.9,445.5 L654.6,444.7 L655.4,441.8 L656.1,443.2 L656.9,443.8 L657.6,442.6 L658.4,446.4 L659.1,443.3 L659.9,441.1 L660.6,443.2 L661.4,441.8 L662.1,442.3 L662.9,445.1 L663.6,442.7 L664.4,441.2 L665.1,441.1 L665.9,441.5 L666.6,440.3 L667.4,440.8 L668.1,442.1 L668.9,442.1 L669.6,442.0 L670.4,443.0 L671.1,444.5 L671.9,443.8 L672.6,442.6 L673.4,442.6 L674.1,439.4 L674.9,441.3 L675.6,437.2 L676.4,435.9 L677.1,438.0 L677.9,436.0 L678.6,435.8 L679.4,433.6 L680.1,434.8 L680.9,435.9 L681.6,437.1 L682.4,439.8 L683.1,435.3 L683.9,438.7 L684.6,438.1 L685.4,438.6 L686.1,437.6 L686.9,436.6 L687.6,436.5 L688.4,437.5 L689.1,435.3 L689.9,433.7 L690.6,438.9 L691.4,439.8 L692.1,437.1 L692.9,435.4 L693.6,432.8 L694.4,426.8 L695.1,426.1 L695.9,420.6 L696.6,419.6 L697.4,418.9 L698.1,419.1 L698.9,417.7 L699.6,422.0 L700.4,422.3 L701.1,419.9 L701.9,422.7 L702.6,424.0 L703.4,422.2 L704.1,420.8 L704.9,419.1 L705.6,421.1 L706.4,416.5 L707.1,420.2 L707.9,415.9 L708.6,414.5 L709.4,414.9 L710.1,413.6 L710.9,413.2 L711.6,412.3 L712.4,413.4 L713.1,414.7 L713.9,414.0 L714.6,416.5 L715.4,415.2 L716.1,413.5 L716.9,416.2 L717.6,414.9 L718.4,417.6 L719.1,416.2 L719.9,415.7 L720.6,415.6 L721.4,416.6 L722.1,417.5 L722.9,414.9 L723.6,417.5 L724.4,419.9 L725.1,417.8 L725.9,421.6 L726.6,421.6 L727.4,423.5 L728.1,422.2 L728.9,419.4 L729.6,420.2 L730.4,418.0 L731.1,420.1 L731.9,418.1 L732.6,416.8 L733.4,415.2 L734.1,416.6 L734.9,413.7 L735.6,416.3 L736.4,415.4 L737.1,416.5 L737.9,414.8 L738.6,413.6 L739.4,413.5 L740.1,414.1 L740.9,414.2 L741.6,411.4 L742.4,415.9 L743.1,411.6 L743.9,413.6 L744.6,412.0 L745.4,411.0 L746.1,408.2 L746.9,410.8 L747.6,408.8 L748.4,408.9 L749.1,409.1 L749.9,408.7 L750.6,405.4 L751.4,406.5 L752.1,404.1 L752.9,408.3 L753.6,408.0 L754.4,412.0 L755.1,408.9 L755.9,407.2 L756.6,408.2 L757.4,410.3 L758.1,410.9 L758.9,410.5 L759.6,413.1 L760.4,409.3 L761.1,411.2 L761.9,414.4 L762.6,416.6 L763.4,415.7 L764.1,416.0 L764.9,414.5 L765.6,418.1 L766.4,418.7 L767.1,419.2 L767.9,418.2 L768.6,419.7 L769.4,421.4 L770.1,421.3 L770.9,424.7 L771.6,424.8 L772.4,423.1 L773.1,424.7 L773.9,428.0 L774.6,426.1 L775.4,426.5 L776.1,428.8 L776.9,426.9 L777.6,427.8 L778.4,426.7 L779.1,423.4 L779.9,426.1 L780.6,423.5 L781.4,423.5 L782.1,422.6 L782.9,424.8 L783.6,421.8 L784.4,421.9 L785.1,420.7 L785.9,420.2 L786.6,422.3 L787.4,421.3 L788.1,420.2 L788.9,420.4 L789.6,422.6 L790.4,418.9 L791.1,423.5 L791.9,420.8 L792.6,423.7 L793.4,420.6 L794.1,416.1 L794.9,420.2 L795.6,417.4 L796.4,420.0 L797.1,418.7 L797.9,417.5 L798.6,419.9 L799.4,415.7 L800.1,420.0 L800.9,419.0 L801.6,420.6 L802.4,421.7 L803.1,418.2 L803.9,421.9 L804.6,422.0 L805.4,415.4 L806.1,409.7 L806.9,405.2 L807.6,406.5 L808.4,405.8 L809.1,402.4 L809.9,402.6 L810.6,402.1 L811.4,400.0 L812.1,401.3 L812.9,399.4 L813.6,402.4 L814.4,401.1 L815.1,402.1 L815.9,401.5 L816.6,405.9 L817.4,404.5 L818.1,404.2 L818.9,405.3 L819.6,399.9 L820.4,401.2 L821.1,397.4 L821.9,402.9 L822.6,400.5 L823.4,403.2 L824.1,405.1 L824.9,405.2 L825.6,400.9 L826.4,401.7 L827.1,399.8 L827.9,399.3 L828.6,399.1 L829.4,397.4 L830.1,401.3 L830.9,403.0 L831.6,402.5 L832.4,405.7 L833.1,405.2 L833.9,408.1 L834.6,407.3 L835.4,408.5 L836.1,410.2 L836.9,410.5 L837.6,407.6 L838.4,411.5 L839.1,408.8 L839.9,410.6 L840.6,410.3 L841.4,409.7 L842.1,407.9 L842.9,411.6 L843.6,411.4 L844.4,410.8 L845.1,413.6 L845.9,412.8 L846.6,415.0 L847.4,416.5 L848.1,418.8 L848.9,420.2 L849.6,423.7 L850.4,423.0 L851.1,424.1 L851.9,429.1 L852.6,428.4 L853.4,430.3 L854.1,428.6 L854.9,428.9 L855.6,428.7 L856.4,427.7 L857.1,430.5 L857.9,429.5 L858.6,428.1 L859.4,429.1 L860.1,427.8 L860.9,423.5 L861.6,420.1 L862.4,417.6 L863.1,413.7 L863.9,416.9 L864.6,415.5 L865.4,414.3 L866.1,414.2 L866.9,412.6 L867.6,417.6 L868.4,415.1 L869.1,417.2 L869.9,416.3 L870.6,419.9 L871.4,417.1 L872.1,418.2 L872.9,419.5 L873.6,420.5 L874.4,420.8 L875.1,421.5 L875.9,422.2 L876.6,423.4 L877.4,425.5 L878.1,424.1 L878.9,423.4 L879.6,424.0 L880.4,425.1 L881.1,424.7 L881.9,424.5 L882.6,425.8 L883.4,424.8 L884.1,424.4 L884.9,424.8 L885.6,422.6 L886.4,420.2 L887.1,418.9 L887.9,419.8 L888.6,420.3 L889.4,419.9 L890.1,420.3 L890.9,418.1 L891.6,415.0 L892.4,422.0 L893.1,422.5 L893.9,419.7 L894.6,418.3 L895.4,417.6 L896.1,415.3 L896.9,414.9 L897.6,415.7 L898.4,413.0 L899.1,413.7 L899.9,413.9 L900.6,415.0 L901.4,412.4 L902.1,413.7 L902.9,410.9 L903.6,408.5 L904.4,410.8 L905.1,408.1 L905.9,408.8 L906.6,408.1 L907.4,407.9 L908.1,404.5 L908.9,405.5 L909.6,403.7 L910.4,405.1 L911.1,403.5 L911.9,405.6 L912.6,404.2 L913.4,404.0 L914.1,402.9 L914.9,406.6 L915.6,406.1 L916.4,405.6 L917.1,405.4 L917.9,407.3 L918.6,408.4 L919.4,407.4 L920.1,411.9 L920.9,408.4 L921.6,410.5 L922.4,411.2 L923.1,407.3 L924.2,415.6" fill="none" stroke="#f5921b" stroke-width="2.3" stroke-linejoin="round"/>
<path d="M590.1,465.6 L590.9,463.2 L591.6,462.1 L592.4,461.8 L593.1,461.5 L593.9,461.7 L594.6,460.8 L595.4,459.0 L596.1,460.1 L596.9,461.9 L597.6,461.1 L598.4,461.5 L599.1,463.5 L599.9,464.7 L600.6,466.0 L601.4,466.4 L602.1,465.1 L602.9,462.7 L603.6,463.1 L604.4,460.9 L605.1,458.5 L605.9,457.4 L606.6,455.9 L607.4,453.8 L608.1,455.4 L608.9,454.1 L609.6,452.2 L610.4,452.2 L611.1,454.4 L611.9,451.3 L612.6,452.3 L613.4,451.8 L614.1,452.5 L614.9,451.2 L615.6,450.9 L616.4,451.8 L617.1,451.3 L617.9,451.9 L618.6,452.6 L619.4,452.1 L620.1,453.8 L620.9,453.0 L621.6,451.4 L622.4,452.6 L623.1,449.1 L623.9,448.5 L624.6,446.9 L625.4,448.8 L626.1,447.3 L626.9,446.1 L627.6,446.1 L628.4,447.3 L629.1,445.8 L629.9,445.7 L630.6,446.3 L631.4,445.9 L632.1,444.0 L632.9,444.7 L633.6,443.8 L634.4,445.3 L635.1,445.9 L635.9,446.9 L636.6,448.2 L637.4,449.7 L638.1,447.3 L638.9,450.7 L639.6,447.0 L640.4,448.0 L641.1,444.2 L641.9,445.3 L642.6,442.3 L643.4,442.7 L644.1,443.3 L644.9,445.4 L645.6,443.1 L646.4,444.8 L647.1,445.2 L647.9,445.9 L648.6,444.1 L649.4,445.4 L650.1,445.5 L650.9,446.4 L651.6,445.8 L652.4,447.1 L653.1,446.4 L653.9,445.5 L654.6,444.7 L655.4,441.8 L656.1,443.2 L656.9,443.8 L657.6,442.6 L658.4,446.4 L659.1,443.3 L659.9,441.1 L660.6,443.2 L661.4,441.8 L662.1,442.3 L662.9,445.1 L663.6,442.7 L664.4,441.2 L665.1,441.1 L665.9,441.5 L666.6,440.3 L667.4,440.8 L668.1,442.1 L668.9,442.1 L669.6,442.0 L670.4,443.0 L671.1,444.5 L671.9,443.8 L672.6,442.6 L673.4,442.6 L674.1,439.4 L674.9,441.3 L675.6,437.2 L676.4,435.9 L677.1,438.0 L677.9,436.0 L678.6,435.8 L679.4,433.6 L680.1,434.8 L680.9,435.9 L681.6,437.1 L682.4,439.8 L683.1,435.3 L683.9,438.7 L684.6,438.1 L685.4,438.6 L686.1,437.6 L686.9,436.6 L687.6,436.5 L688.4,437.5 L689.1,435.3 L689.9,433.7 L690.6,438.9 L691.4,439.8 L692.1,437.1 L692.9,435.4 L693.6,432.8 L694.4,426.8 L695.1,426.1 L695.9,420.6 L696.6,419.6 L697.4,418.9 L698.1,419.1 L698.9,417.7 L699.6,422.0 L700.4,422.3 L701.1,419.9 L701.9,422.7 L702.6,424.0 L703.4,422.2 L704.1,420.8 L704.9,419.1 L705.6,421.1 L706.4,416.5 L707.1,420.2 L707.9,415.9 L708.6,414.5 L709.4,414.9 L710.1,413.6 L710.9,413.2 L711.6,412.3 L712.4,413.4 L713.1,414.7 L713.9,414.0 L714.6,416.5 L715.4,415.2 L716.1,413.5 L716.9,416.2 L717.6,414.9 L718.4,417.6 L719.1,416.2 L719.9,415.7 L720.6,415.6 L721.4,416.6 L722.1,417.5 L722.9,414.9 L723.6,417.5 L724.4,419.9 L725.1,417.8 L725.9,421.6 L726.6,421.6 L727.4,423.5 L728.1,422.2 L728.9,419.4 L729.6,420.2 L730.4,418.0 L731.1,420.1 L731.9,418.1 L732.6,416.8 L733.4,415.2 L734.1,416.6 L734.9,413.7 L735.6,416.3 L736.4,415.4 L737.1,416.5 L737.9,414.8 L738.6,413.6 L739.4,413.5 L740.1,414.1 L740.9,414.2 L741.6,411.4 L742.4,415.9 L743.1,411.6 L743.9,413.6 L744.6,412.0 L745.4,411.0 L746.1,408.2 L746.9,410.8 L747.6,408.8 L748.4,408.9 L749.1,409.1 L749.9,408.7 L750.6,405.4 L751.4,406.5 L752.1,404.1 L752.9,408.3 L753.6,408.0 L754.4,412.0 L755.1,408.9 L755.9,407.2 L756.6,408.2 L757.4,410.3 L758.1,410.9 L758.9,410.5 L759.6,413.1 L760.4,409.3 L761.1,411.2 L761.9,414.4 L762.6,416.6 L763.4,415.7 L764.1,416.0 L764.9,414.5 L765.6,418.1 L766.4,418.7 L767.1,419.2 L767.9,418.2 L768.6,419.7 L769.4,421.4 L770.1,421.3 L770.9,424.7 L771.6,424.8 L772.4,423.1 L773.1,424.7 L773.9,428.0 L774.6,426.1 L775.4,426.5 L776.1,428.8 L776.9,426.9 L777.6,427.8 L778.4,426.7 L779.1,423.4 L779.9,426.1 L780.6,423.5 L781.4,423.5 L782.1,422.6 L782.9,424.8 L783.6,421.8 L784.4,421.9 L785.1,420.7 L785.9,420.2 L786.6,422.3 L787.4,421.3 L788.1,420.2 L788.9,420.4 L789.6,422.6 L790.4,418.9 L791.1,423.5 L791.9,420.8 L792.6,423.7 L793.4,420.6 L794.1,416.1 L794.9,420.2 L795.6,417.4 L796.4,420.0 L797.1,418.7 L797.9,417.5 L798.6,419.9 L799.4,415.7 L800.1,420.0 L800.9,419.0 L801.6,420.6 L802.4,421.7 L803.1,418.2 L803.9,421.9 L804.6,422.0 L805.4,415.4 L806.1,409.7 L806.9,405.2 L807.6,406.5 L808.4,405.8 L809.1,402.4 L809.9,402.6 L810.6,402.1 L811.4,400.0 L812.1,401.3 L812.9,399.4 L813.6,402.4 L814.4,401.1 L815.1,402.1 L815.9,401.5 L816.6,405.9 L817.4,404.5 L818.1,404.2 L818.9,405.3 L819.6,399.9 L820.4,401.2 L821.1,397.4 L821.9,402.9 L822.6,400.5 L823.4,403.2 L824.1,405.1 L824.9,405.2 L825.6,400.9 L826.4,401.7 L827.1,399.8 L827.9,399.3 L828.6,399.1 L829.4,397.4 L830.1,401.3 L830.9,403.0 L831.6,402.5 L832.4,405.7 L833.1,405.2 L833.9,408.1 L834.6,407.3 L835.4,408.5 L836.1,410.2 L836.9,410.5 L837.6,407.6 L838.4,411.5 L839.1,408.8 L839.9,410.6 L840.6,410.3 L841.4,409.7 L842.1,407.9 L842.9,411.6 L843.6,411.4 L844.4,410.8 L845.1,413.6 L845.9,412.8 L846.6,415.0 L847.4,416.5 L848.1,418.8 L848.9,420.2 L849.6,423.7 L850.4,423.0 L851.1,424.1 L851.9,429.1 L852.6,428.4 L853.4,430.3 L854.1,428.6 L854.9,428.9 L855.6,428.7 L856.4,427.7 L857.1,430.5 L857.9,429.5 L858.6,428.1 L859.4,429.1 L860.1,427.8 L860.9,423.5 L861.6,420.1 L862.4,417.6 L863.1,413.7 L863.9,416.9 L864.6,415.5 L865.4,414.3 L866.1,414.2 L866.9,412.6 L867.6,417.6 L868.4,415.1 L869.1,417.2 L869.9,416.3 L870.6,419.9 L871.4,417.1 L872.1,418.2 L872.9,419.5 L873.6,420.5 L874.4,420.8 L875.1,421.5 L875.9,422.2 L876.6,423.4 L877.4,425.5 L878.1,424.1 L878.9,423.4 L879.6,424.0 L880.4,425.1 L881.1,424.7 L881.9,424.5 L882.6,425.8 L883.4,424.8 L884.1,424.4 L884.9,424.8 L885.6,422.6 L886.4,420.2 L887.1,418.9 L887.9,419.8 L888.6,420.3 L889.4,419.9 L890.1,420.3 L890.9,418.1 L891.6,415.0 L892.4,422.0 L893.1,422.5 L893.9,419.7 L894.6,418.3 L895.4,417.6 L896.1,415.3 L896.9,414.9 L897.6,415.7 L898.4,413.0 L899.1,413.7 L899.9,413.9 L900.6,415.0 L901.4,412.4 L902.1,413.7 L902.9,410.9 L903.6,408.5 L904.4,410.8 L905.1,408.1 L905.9,408.8 L906.6,408.1 L907.4,407.9 L908.1,404.5 L908.9,405.5 L909.6,403.7 L910.4,405.1 L911.1,403.5 L911.9,405.6 L912.6,404.2 L913.4,404.0 L914.1,402.9 L914.9,406.6 L915.6,406.1 L916.4,405.6 L917.1,405.4 L917.9,407.3 L918.6,408.4 L919.4,407.4 L920.1,411.9 L920.9,408.4 L921.6,410.5 L922.4,411.2 L923.1,407.3 L924.2,415.6" fill="none" stroke="#f5921b" stroke-width="2.9" stroke-linejoin="round"/>
<circle cx="131.9" cy="584" r="8.9" fill="#fff" stroke="#d0d0d0" stroke-width="1.4"/><text x="131.9" y="588.4" text-anchor="middle" font-size="12.5" font-family="Liberation Sans" font-weight="bold" fill="#ababab">G</text><circle cx="150.2" cy="584" r="8.9" fill="#fff" stroke="#d0d0d0" stroke-width="1.4"/><text x="150.2" y="588.4" text-anchor="middle" font-size="12.5" font-family="Liberation Sans" font-weight="bold" fill="#ababab">G</text><circle cx="175.5" cy="584" r="8.9" fill="#fff" stroke="#d0d0d0" stroke-width="1.4"/><text x="175.5" y="588.4" text-anchor="middle" font-size="12.5" font-family="Liberation Sans" font-weight="bold" fill="#ababab">G</text><circle cx="184.8" cy="584" r="8.9" fill="#fff" stroke="#d0d0d0" stroke-width="1.4"/><text x="184.8" y="588.4" text-anchor="middle" font-size="12.5" font-family="Liberation Sans" font-weight="bold" fill="#ababab">G</text><circle cx="215.8" cy="584" r="8.9" fill="#fff" stroke="#d0d0d0" stroke-width="1.4"/><text x="215.8" y="588.4" text-anchor="middle" font-size="12.5" font-family="Liberation Sans" font-weight="bold" fill="#ababab">G</text><circle cx="241.6" cy="584" r="8.9" fill="#fff" stroke="#d0d0d0" stroke-width="1.4"/><text x="241.6" y="588.4" text-anchor="middle" font-size="12.5" font-family="Liberation Sans" font-weight="bold" fill="#ababab">G</text><circle cx="255.6" cy="584" r="8.9" fill="#fff" stroke="#d0d0d0" stroke-width="1.4"/><text x="255.6" y="588.0" text-anchor="middle" font-size="15" font-family="Liberation Sans" font-weight="bold" fill="#ababab">a</text><circle cx="265" cy="584" r="8.9" fill="#fff" stroke="#d0d0d0" stroke-width="1.4"/><text x="265" y="588.4" text-anchor="middle" font-size="12.5" font-family="Liberation Sans" font-weight="bold" fill="#ababab">G</text><circle cx="268" cy="584" r="8.9" fill="#fff" stroke="#d0d0d0" stroke-width="1.4"/><text x="268" y="588.4" text-anchor="middle" font-size="12.5" font-family="Liberation Sans" font-weight="bold" fill="#ababab">G</text><circle cx="271" cy="584" r="8.9" fill="#fff" stroke="#d0d0d0" stroke-width="1.4"/><text x="271" y="588.4" text-anchor="middle" font-size="12.5" font-family="Liberation Sans" font-weight="bold" fill="#ababab">G</text><circle cx="274" cy="584" r="8.9" fill="#fff" stroke="#d0d0d0" stroke-width="1.4"/><text x="274" y="588.4" text-anchor="middle" font-size="12.5" font-family="Liberation Sans" font-weight="bold" fill="#ababab">G</text><circle cx="276" cy="584" r="8.9" fill="#fff" stroke="#d0d0d0" stroke-width="1.4"/><text x="276" y="588.4" text-anchor="middle" font-size="12.5" font-family="Liberation Sans" font-weight="bold" fill="#ababab">G</text><circle cx="279" cy="584" r="8.9" fill="#fff" stroke="#a9a9a9" stroke-width="1.4"/><text x="279" y="588.4" text-anchor="middle" font-size="12.5" font-family="Liberation Sans" font-weight="bold" fill="#ababab">G</text><circle cx="290.8" cy="584" r="8.9" fill="#fff" stroke="#d0d0d0" stroke-width="1.4"/><text x="290.8" y="588.4" text-anchor="middle" font-size="12.5" font-family="Liberation Sans" font-weight="bold" fill="#ababab">G</text><circle cx="296" cy="584" r="8.9" fill="#fff" stroke="#d0d0d0" stroke-width="1.4"/><text x="296" y="588.4" text-anchor="middle" font-size="12.5" font-family="Liberation Sans" font-weight="bold" fill="#ababab">G</text><circle cx="300.1" cy="584" r="8.9" fill="#fff" stroke="#d0d0d0" stroke-width="1.4"/><text x="300.1" y="588.4" text-anchor="middle" font-size="12.5" font-family="Liberation Sans" font-weight="bold" fill="#ababab">G</text><circle cx="313.7" cy="584" r="8.9" fill="#fff" stroke="#d0d0d0" stroke-width="1.4"/><text x="313.7" y="588.0" text-anchor="middle" font-size="15" font-family="Liberation Sans" font-weight="bold" fill="#ababab">a</text><circle cx="335.3" cy="584" r="8.9" fill="#fff" stroke="#d0d0d0" stroke-width="1.4"/><text x="335.3" y="588.4" text-anchor="middle" font-size="12.5" font-family="Liberation Sans" font-weight="bold" fill="#ababab">G</text><circle cx="341.2" cy="584" r="8.9" fill="#fff" stroke="#d0d0d0" stroke-width="1.4"/><text x="341.2" y="588.4" text-anchor="middle" font-size="12.5" font-family="Liberation Sans" font-weight="bold" fill="#ababab">G</text><circle cx="348.5" cy="584" r="8.9" fill="#fff" stroke="#a9a9a9" stroke-width="1.4"/><text x="348.5" y="588.4" text-anchor="middle" font-size="12.5" font-family="Liberation Sans" font-weight="bold" fill="#ababab">G</text><circle cx="374.7" cy="584" r="8.9" fill="#fff" stroke="#d0d0d0" stroke-width="1.4"/><text x="374.7" y="588.0" text-anchor="middle" font-size="15" font-family="Liberation Sans" font-weight="bold" fill="#ababab">a</text><circle cx="385.7" cy="584" r="8.9" fill="#fff" stroke="#d0d0d0" stroke-width="1.4"/><text x="385.7" y="588.0" text-anchor="middle" font-size="15" font-family="Liberation Sans" font-weight="bold" fill="#ababab">a</text><circle cx="389.2" cy="584" r="8.9" fill="#fff" stroke="#d0d0d0" stroke-width="1.4"/><text x="389.2" y="588.0" text-anchor="middle" font-size="15" font-family="Liberation Sans" font-weight="bold" fill="#ababab">a</text><circle cx="400.5" cy="584" r="8.9" fill="#fff" stroke="#d0d0d0" stroke-width="1.4"/><text x="400.5" y="588.4" text-anchor="middle" font-size="12.5" font-family="Liberation Sans" font-weight="bold" fill="#ababab">G</text><circle cx="418.5" cy="584" r="8.9" fill="#fff" stroke="#d0d0d0" stroke-width="1.4"/><text x="418.5" y="588.0" text-anchor="middle" font-size="15" font-family="Liberation Sans" font-weight="bold" fill="#ababab">a</text><circle cx="428.6" cy="584" r="8.9" fill="#fff" stroke="#d0d0d0" stroke-width="1.4"/><text x="428.6" y="588.4" text-anchor="middle" font-size="12.5" font-family="Liberation Sans" font-weight="bold" fill="#ababab">G</text><circle cx="443.1" cy="584" r="8.9" fill="#fff" stroke="#d0d0d0" stroke-width="1.4"/><text x="443.1" y="588.4" text-anchor="middle" font-size="12.5" font-family="Liberation Sans" font-weight="bold" fill="#ababab">G</text><circle cx="447.8" cy="584" r="8.9" fill="#fff" stroke="#d0d0d0" stroke-width="1.4"/><text x="447.8" y="588.4" text-anchor="middle" font-size="12.5" font-family="Liberation Sans" font-weight="bold" fill="#ababab">G</text><circle cx="457.2" cy="584" r="8.9" fill="#fff" stroke="#d0d0d0" stroke-width="1.4"/><text x="457.2" y="588.4" text-anchor="middle" font-size="12.5" font-family="Liberation Sans" font-weight="bold" fill="#ababab">G</text><circle cx="468.9" cy="584" r="8.9" fill="#fff" stroke="#d0d0d0" stroke-width="1.4"/><text x="468.9" y="588.4" text-anchor="middle" font-size="12.5" font-family="Liberation Sans" font-weight="bold" fill="#ababab">G</text><circle cx="475.9" cy="584" r="8.9" fill="#fff" stroke="#d0d0d0" stroke-width="1.4"/><text x="475.9" y="588.4" text-anchor="middle" font-size="12.5" font-family="Liberation Sans" font-weight="bold" fill="#ababab">G</text><circle cx="480.6" cy="584" r="8.9" fill="#fff" stroke="#d0d0d0" stroke-width="1.4"/><text x="480.6" y="588.4" text-anchor="middle" font-size="12.5" font-family="Liberation Sans" font-weight="bold" fill="#ababab">G</text><circle cx="486.5" cy="584" r="8.9" fill="#fff" stroke="#d0d0d0" stroke-width="1.4"/><text x="486.5" y="588.0" text-anchor="middle" font-size="15" font-family="Liberation Sans" font-weight="bold" fill="#ababab">a</text><circle cx="495.8" cy="584" r="8.9" fill="#fff" stroke="#d0d0d0" stroke-width="1.4"/><text x="495.8" y="588.4" text-anchor="middle" font-size="12.5" font-family="Liberation Sans" font-weight="bold" fill="#ababab">G</text><circle cx="514.6" cy="584" r="8.9" fill="#fff" stroke="#d0d0d0" stroke-width="1.4"/><text x="514.6" y="588.4" text-anchor="middle" font-size="12.5" font-family="Liberation Sans" font-weight="bold" fill="#ababab">G</text><circle cx="520.5" cy="584" r="8.9" fill="#fff" stroke="#d0d0d0" stroke-width="1.4"/><text x="520.5" y="588.4" text-anchor="middle" font-size="12.5" font-family="Liberation Sans" font-weight="bold" fill="#ababab">G</text><circle cx="549.7" cy="584" r="8.9" fill="#fff" stroke="#d0d0d0" stroke-width="1.4"/><text x="549.7" y="588.4" text-anchor="middle" font-size="12.5" font-family="Liberation Sans" font-weight="bold" fill="#ababab">G</text><circle cx="558" cy="584" r="8.9" fill="#fff" stroke="#d0d0d0" stroke-width="1.4"/><text x="558" y="588.4" text-anchor="middle" font-size="12.5" font-family="Liberation Sans" font-weight="bold" fill="#ababab">G</text><circle cx="562.3" cy="584" r="8.9" fill="#fff" stroke="#d0d0d0" stroke-width="1.4"/><text x="562.3" y="588.4" text-anchor="middle" font-size="12.5" font-family="Liberation Sans" font-weight="bold" fill="#ababab">G</text><circle cx="568.2" cy="584" r="8.9" fill="#fff" stroke="#d0d0d0" stroke-width="1.4"/><text x="568.2" y="588.4" text-anchor="middle" font-size="12.5" font-family="Liberation Sans" font-weight="bold" fill="#ababab">G</text><circle cx="575.2" cy="584" r="8.9" fill="#fff" stroke="#d0d0d0" stroke-width="1.4"/><text x="575.2" y="588.4" text-anchor="middle" font-size="12.5" font-family="Liberation Sans" font-weight="bold" fill="#ababab">G</text><circle cx="601.7" cy="584" r="8.9" fill="#fff" stroke="#d0d0d0" stroke-width="1.4"/><text x="601.7" y="588.0" text-anchor="middle" font-size="15" font-family="Liberation Sans" font-weight="bold" fill="#ababab">a</text><circle cx="622.1" cy="584" r="8.9" fill="#fff" stroke="#d0d0d0" stroke-width="1.4"/><text x="622.1" y="588.0" text-anchor="middle" font-size="15" font-family="Liberation Sans" font-weight="bold" fill="#ababab">a</text><circle cx="635" cy="584" r="8.9" fill="#fff" stroke="#d0d0d0" stroke-width="1.4"/><text x="635" y="588.4" text-anchor="middle" font-size="12.5" font-family="Liberation Sans" font-weight="bold" fill="#ababab">G</text><circle cx="644.4" cy="584" r="8.9" fill="#fff" stroke="#d0d0d0" stroke-width="1.4"/><text x="644.4" y="588.4" text-anchor="middle" font-size="12.5" font-family="Liberation Sans" font-weight="bold" fill="#ababab">G</text><circle cx="653.7" cy="584" r="8.9" fill="#fff" stroke="#a9a9a9" stroke-width="1.4"/><text x="653.7" y="588.4" text-anchor="middle" font-size="12.5" font-family="Liberation Sans" font-weight="bold" fill="#ababab">G</text><circle cx="670.1" cy="584" r="8.9" fill="#fff" stroke="#d0d0d0" stroke-width="1.4"/><text x="670.1" y="588.4" text-anchor="middle" font-size="12.5" font-family="Liberation Sans" font-weight="bold" fill="#ababab">G</text><circle cx="700.1" cy="584" r="8.9" fill="#fff" stroke="#d0d0d0" stroke-width="1.4"/><text x="700.1" y="588.0" text-anchor="middle" font-size="15" font-family="Liberation Sans" font-weight="bold" fill="#ababab">a</text><circle cx="723.3" cy="584" r="8.9" fill="#fff" stroke="#a9a9a9" stroke-width="1.4"/><text x="723.3" y="588.6" text-anchor="middle" font-size="13" font-family="Liberation Sans" font-weight="bold" fill="#ababab">2</text><circle cx="772.2" cy="584" r="8.9" fill="#fff" stroke="#d0d0d0" stroke-width="1.4"/><text x="772.2" y="588.4" text-anchor="middle" font-size="12.5" font-family="Liberation Sans" font-weight="bold" fill="#ababab">G</text><circle cx="797.5" cy="584" r="8.9" fill="#fff" stroke="#d0d0d0" stroke-width="1.4"/><text x="797.5" y="588.6" text-anchor="middle" font-size="13" font-family="Liberation Sans" font-weight="bold" fill="#ababab">2</text><circle cx="818.1" cy="584" r="8.9" fill="#fff" stroke="#d0d0d0" stroke-width="1.4"/><text x="818.1" y="588.0" text-anchor="middle" font-size="15" font-family="Liberation Sans" font-weight="bold" fill="#ababab">a</text><circle cx="836.2" cy="584" r="8.9" fill="#fff" stroke="#d0d0d0" stroke-width="1.4"/><text x="836.2" y="588.4" text-anchor="middle" font-size="12.5" font-family="Liberation Sans" font-weight="bold" fill="#ababab">G</text><circle cx="854.2" cy="584" r="8.9" fill="#fff" stroke="#a9a9a9" stroke-width="1.4"/><text x="854.2" y="588.4" text-anchor="middle" font-size="12.5" font-family="Liberation Sans" font-weight="bold" fill="#ababab">G</text><circle cx="892.4" cy="584" r="8.9" fill="#fff" stroke="#d0d0d0" stroke-width="1.4"/><text x="892.4" y="588.4" text-anchor="middle" font-size="12.5" font-family="Liberation Sans" font-weight="bold" fill="#ababab">G</text>
</svg>

<div class="a ylab" style="right:31px;top:322px">6M</div>
<div class="a ylab" style="right:31px;top:390px">4.5M</div>
<div class="a ylab" style="right:31px;top:458px">3M</div>
<div class="a ylab" style="right:31px;top:526.5px">1.5M</div>
<div class="a ylab" style="right:31px;top:595.5px">0</div>

<div class="a dlab" style="left:177px;top:595.6px">5 Feb 2021</div>
<div class="a dlab" style="left:291.5px;top:595.6px">24 Oct 2021</div>
<div class="a dlab" style="left:414px;top:595.6px">12 Jul 2022</div>
<div class="a dlab" style="left:528.5px;top:595.6px">30 Mar 2023</div>
<div class="a dlab" style="left:647.5px;top:595.6px">16 Dec 2023</div>
<div class="a dlab" style="left:768.5px;top:595.6px">2 Sep 2024</div>
<div class="a dlab" style="left:882px;top:595.6px">21 May 2025</div>
</body></html>
